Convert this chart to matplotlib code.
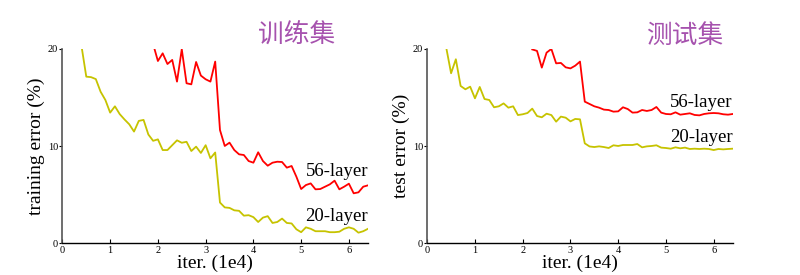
import matplotlib
matplotlib.use("Agg")
import matplotlib.pyplot as plt

# iterations (x 1e4)
iters_20 = [0.4, 0.5, 0.6, 0.7, 0.8, 0.9, 1.0, 1.1, 1.2, 1.3, 1.4, 1.5, 1.6, 1.7, 1.8, 1.9,
            2.0, 2.1, 2.2, 2.3, 2.4, 2.5, 2.6, 2.7, 2.8, 2.9, 3.0, 3.1, 3.2, 3.3, 3.4, 3.5,
            3.6, 3.7, 3.8, 3.9, 4.0, 4.1, 4.2, 4.3, 4.4, 4.5, 4.6, 4.7, 4.8, 4.9, 5.0, 5.1,
            5.2, 5.3, 5.4, 5.5, 5.6, 5.7, 5.8, 5.9, 6.0, 6.1, 6.2, 6.3, 6.4]
iters_56_train = [1.9, 2.0, 2.1, 2.2, 2.3, 2.4, 2.5, 2.6, 2.7, 2.8, 2.9, 3.0, 3.1, 3.2, 3.3,
                  3.4, 3.5, 3.6, 3.7, 3.8, 3.9, 4.0, 4.1, 4.2, 4.3, 4.4, 4.5, 4.6, 4.7, 4.8,
                  4.9, 5.0, 5.1, 5.2, 5.3, 5.4, 5.5, 5.6, 5.7, 5.8, 5.9, 6.0, 6.1, 6.2, 6.3, 6.4]
iters_56_test = [2.2, 2.3, 2.4, 2.5, 2.6, 2.7, 2.8, 2.9, 3.0, 3.1, 3.2, 3.3, 3.4, 3.5, 3.6,
                 3.7, 3.8, 3.9, 4.0, 4.1, 4.2, 4.3, 4.4, 4.5, 4.6, 4.7, 4.8, 4.9, 5.0, 5.1,
                 5.2, 5.3, 5.4, 5.5, 5.6, 5.7, 5.8, 5.9, 6.0, 6.1, 6.2, 6.3, 6.4]

# erro de treino (%)
train_20 = [20.3, 17.15, 17.1, 16.9, 15.6, 14.75, 13.45, 14.1, 13.3, 12.75, 12.25, 11.5, 12.6,
            12.7, 11.2, 10.55, 10.7, 9.6, 9.6, 10.1, 10.6, 10.35, 10.45, 9.5, 9.95, 9.3, 10.1,
            8.75, 9.35, 4.2, 3.7, 3.65, 3.4, 3.35, 2.85, 2.9, 2.7, 2.2, 2.65, 2.8, 2.1, 2.2,
            2.55, 2.1, 2.05, 1.45, 1.15, 1.65, 1.5, 1.25, 1.25, 1.25, 1.15, 1.15, 1.2, 1.5,
            1.65, 1.5, 1.1, 1.25, 1.5]
train_56 = [20.5, 18.76, 19.55, 18.45, 18.87, 16.64, 19.97, 16.47, 16.36, 18.66, 17.26, 16.88,
            16.64, 18.7, 11.66, 10.02, 10.36, 9.6, 9.16, 9.09, 8.47, 8.3, 9.37, 8.47, 7.99,
            8.3, 8.4, 8.37, 7.79, 7.96, 6.86, 5.59, 6.0, 6.17, 5.56, 5.59, 5.83, 6.07, 6.45,
            5.56, 5.83, 6.14, 5.15, 5.25, 5.83, 5.97]

# erro de teste (%)
test_20 = [20.1, 17.5, 18.94, 16.19, 15.85, 16.12, 14.92, 16.09, 14.85, 14.75, 14.0, 14.1,
           14.4, 13.96, 14.1, 13.2, 13.28, 13.41, 13.86, 13.1, 12.97, 13.34, 13.2, 12.52,
           13.04, 12.93, 12.55, 12.8, 12.76, 10.29, 9.97, 9.91, 9.98, 9.91, 9.81, 10.09,
           10.02, 10.12, 10.12, 10.12, 10.22, 9.88, 9.98, 10.02, 10.09, 9.85, 9.81, 9.74,
           9.88, 9.78, 9.85, 9.71, 9.74, 9.71, 9.74, 9.71, 9.6, 9.71, 9.67, 9.71, 9.74]
test_56 = [19.95, 19.8, 18.08, 19.62, 20.0, 18.52, 18.56, 18.11, 18.0, 18.28, 18.7, 14.58,
           14.34, 14.1, 13.96, 13.76, 13.72, 13.55, 13.58, 14.0, 13.82, 13.45, 13.48, 13.72,
           13.62, 13.72, 14.03, 13.45, 13.31, 13.28, 13.48, 13.24, 13.31, 13.38, 13.21, 13.17,
           13.31, 13.38, 13.41, 13.38, 13.28, 13.24, 13.31]

x_ticks = [0, 1, 2, 3, 4, 5, 6]
y_ticks = [0, 10, 20]
titulos = ["训练集", "测试集"]
ylabels = ["training error (%)", "test error (%)"]

cor_20 = "#c6c300"
cor_56 = "#ff0000"
cor_titulo = "#a652ae"
serif = ["Liberation Serif", "DejaVu Serif"]

fig = plt.figure(figsize=(8, 2.75), dpi=100)
ax1 = fig.add_axes([0.078, 0.115, 0.382, 0.707])
ax2 = fig.add_axes([0.534, 0.115, 0.382, 0.707])

paineis = [
    (ax1, train_20, iters_56_train, train_56, (6.9, 2.3)),
    (ax2, test_20, iters_56_test, test_56, (14.0, 10.4)),
]

for i, (ax, e20, x56, e56, (y56, y20)) in enumerate(paineis):
    ax.plot(iters_20, e20, color=cor_20, lw=1.3)
    ax.plot(x56, e56, color=cor_56, lw=1.3)
    ax.set_xlim(0, 6.4)
    ax.set_ylim(0, 20)
    ax.set_xticks(x_ticks)
    ax.set_yticks(y_ticks)
    ax.spines["top"].set_visible(False)
    ax.spines["right"].set_visible(False)
    ax.spines["left"].set_color("#555555")
    ax.spines["left"].set_linewidth(1.2)
    ax.spines["bottom"].set_linewidth(1.0)
    ax.tick_params(axis="x", direction="in", length=3, labelsize=7.5, pad=2)
    ax.tick_params(axis="y", direction="out", length=2, labelsize=7.5, pad=1)
    for lab in ax.get_xticklabels() + ax.get_yticklabels():
        lab.set_family(serif)
    ax.set_xlabel("iter. (1e4)", family=serif, fontsize=14, labelpad=0)
    ax.set_ylabel(ylabels[i], family=serif, fontsize=14, labelpad=2)
    ax.text(6.4, y56, "56-layer", family=serif, fontsize=13.5, ha="right", va="baseline")
    ax.text(6.4, y20, "20-layer", family=serif, fontsize=13.5, ha="right", va="baseline")

fig.text(297 / 800, 1 - 36 / 275, titulos[0], family=["Noto Sans CJK SC", "DejaVu Sans"],
         fontsize=18.5, color=cor_titulo, ha="center", va="center")
fig.text(685 / 800, 1 - 36 / 275, titulos[1], family=["Noto Sans CJK SC", "DejaVu Sans"],
         fontsize=18.5, color=cor_titulo, ha="center", va="center")

fig.savefig("out.png", dpi=100)
